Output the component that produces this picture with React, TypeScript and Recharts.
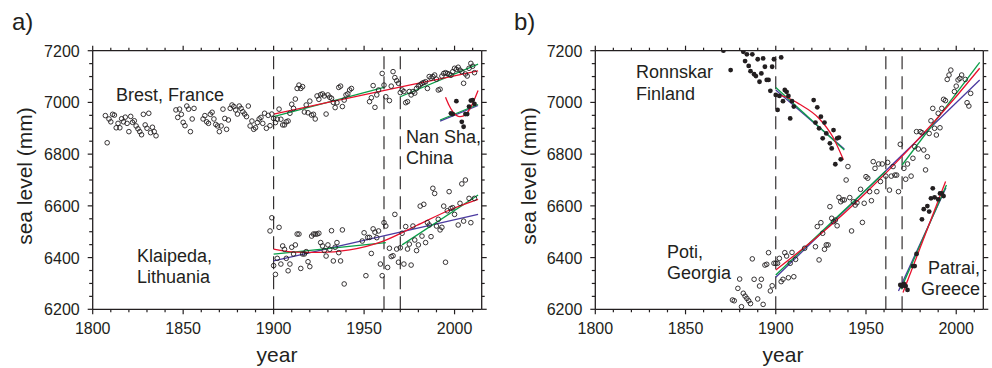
import { ComposedChart, XAxis, YAxis, Scatter, Line, ReferenceLine } from 'recharts'

type Pt = [number, number]

// ---- panel a: tide gauge annual means (year, mm) ----
const brest: Pt[] = [
  [1807, 6949], [1808, 6844], [1809, 6936], [1810, 6925], [1811, 6954], [1812, 6951], [1813, 6902],
  [1814, 6919], [1815, 6902], [1816, 6937], [1817, 6925], [1818, 6943], [1819, 6919], [1820, 6887],
  [1821, 6946], [1822, 6923], [1823, 6929], [1824, 6909], [1825, 6898], [1826, 6887], [1827, 6875],
  [1828, 6954], [1829, 6913], [1830, 6900], [1831, 6958], [1832, 6883], [1833, 6904], [1834, 6887],
  [1835, 6871],
  [1846, 6971], [1847, 6942], [1848, 6974], [1849, 6954], [1850, 6923], [1851, 6910], [1852, 6986],
  [1853, 6974], [1854, 6887], [1855, 6936], [1856, 6977],
  [1861, 6936], [1862, 6949], [1863, 6925], [1864, 6919], [1865, 6954], [1866, 6962], [1867, 6936],
  [1868, 6915], [1869, 6909], [1870, 6887], [1871, 6909], [1872, 6974], [1873, 6938], [1874, 6896],
  [1875, 6932], [1876, 6977], [1877, 6990], [1878, 6984], [1879, 6971], [1880, 6955], [1881, 6986],
  [1882, 6977], [1883, 6964], [1884, 6955], [1885, 6945], [1886, 6986], [1887, 6909], [1888, 6928],
  [1889, 6896], [1890, 6902], [1891, 6922], [1892, 6936], [1893, 6942], [1894, 6919], [1895, 6958],
  [1896, 6900], [1897, 6950], [1898, 6910], [1899, 6955], [1900, 6938], [1901, 6922], [1902, 6935],
  [1903, 6974], [1904, 6935], [1905, 6913], [1906, 6913], [1907, 6925], [1908, 6928], [1909, 6958],
  [1910, 6993], [1911, 6977], [1912, 7013], [1913, 7054], [1914, 7067], [1915, 7054], [1916, 7061],
  [1917, 6963], [1918, 6990], [1919, 6960], [1920, 7005], [1921, 6951], [1922, 6954], [1923, 6936],
  [1924, 7025], [1925, 7012], [1926, 7030], [1927, 7033], [1928, 7025], [1929, 6955], [1930, 7029],
  [1931, 7020], [1932, 7016], [1933, 7000], [1934, 6980], [1935, 6999], [1936, 7058], [1937, 7063],
  [1938, 6984], [1939, 7009], [1940, 7029], [1941, 7033], [1942, 7048], [1943, 7054],
  [1953, 7003], [1954, 7018], [1955, 7065], [1956, 6981], [1957, 7029], [1958, 7048], [1960, 7112],
  [1961, 7067], [1962, 7022], [1964, 7007], [1965, 7063], [1966, 7119], [1967, 7096], [1968, 7084],
  [1969, 7074], [1970, 7038], [1971, 7048], [1972, 7042], [1973, 6999], [1974, 7003], [1975, 7042],
  [1976, 7029], [1977, 7042], [1978, 7036], [1979, 7054], [1980, 7063], [1981, 7068], [1982, 7074],
  [1983, 7077], [1984, 7080], [1985, 7054], [1986, 7100], [1987, 7094], [1988, 7100], [1989, 7106],
  [1990, 7090], [1991, 7048], [1992, 7051], [1993, 7102], [1994, 7112], [1995, 7115], [1996, 7112],
  [1997, 7109], [1998, 7105], [1999, 7119], [2000, 7132], [2001, 7128], [2002, 7136], [2003, 7125],
  [2004, 7119], [2005, 7074], [2006, 7110], [2007, 7102], [2008, 7132], [2009, 7151], [2010, 7140],
  [2011, 7115],
]

const nanSha: Pt[] = [
  [1998, 6958], [1999, 6955], [2001, 7005], [2004, 6925], [2005, 6906], [2006, 6955], [2007, 6955],
  [2008, 6984], [2009, 7007], [2010, 7009], [2011, 6994],
]

const klaipeda: Pt[] = [
  [1898, 6503], [1899, 6554], [1900, 6369], [1901, 6335], [1902, 6397], [1903, 6517], [1904, 6375],
  [1905, 6445], [1906, 6432], [1907, 6397], [1908, 6349], [1909, 6375], [1910, 6440], [1911, 6414],
  [1912, 6449], [1913, 6491], [1914, 6491], [1915, 6358], [1916, 6414], [1917, 6414], [1918, 6423],
  [1919, 6384], [1920, 6365], [1921, 6483], [1922, 6491], [1923, 6491], [1924, 6491], [1925, 6494],
  [1926, 6458], [1927, 6445], [1928, 6427], [1929, 6406], [1930, 6449], [1931, 6432], [1932, 6504],
  [1933, 6387], [1934, 6440], [1935, 6458], [1936, 6419], [1937, 6387], [1938, 6507], [1939, 6298],
  [1949, 6464], [1950, 6496], [1951, 6330], [1952, 6478], [1953, 6478], [1954, 6416], [1955, 6511],
  [1956, 6498], [1957, 6477], [1958, 6503], [1959, 6375], [1960, 6330], [1961, 6535], [1962, 6522],
  [1963, 6362], [1964, 6436], [1965, 6404], [1966, 6407], [1967, 6567], [1968, 6433], [1969, 6382],
  [1970, 6438], [1971, 6494], [1972, 6375], [1973, 6520], [1974, 6433], [1975, 6452], [1976, 6371],
  [1977, 6522], [1978, 6468], [1979, 6427], [1980, 6449], [1981, 6599], [1982, 6483], [1983, 6606],
  [1984, 6458], [1985, 6535], [1986, 6526], [1987, 6481], [1988, 6668], [1989, 6648], [1990, 6522],
  [1991, 6548], [1992, 6507], [1993, 6517], [1994, 6599], [1995, 6382], [1996, 6581], [1997, 6655],
  [1998, 6590], [1999, 6593], [2000, 6567], [2002, 6526], [2003, 6610], [2004, 6685], [2005, 6541],
  [2006, 6700], [2008, 6629], [2009, 6535], [2011, 6629],
]

// ---- panel b ----
const ronnskar: Pt[] = [
  [1871, 7200], [1875, 7125], [1882, 7196], [1883, 7160], [1884, 7186], [1885, 7141], [1886, 7121],
  [1887, 7186], [1888, 7109], [1889, 7102], [1890, 7167], [1891, 7080], [1892, 7112], [1893, 7170],
  [1894, 7138], [1895, 7087], [1896, 7087], [1897, 7045], [1898, 7138], [1899, 7167], [1900, 7029],
  [1901, 6971], [1902, 7025], [1903, 7174], [1904, 7005], [1905, 7048], [1906, 7041], [1907, 7025],
  [1908, 6938], [1909, 7005], [1910, 6984],
  [1921, 7009], [1922, 6922], [1923, 6981], [1924, 6900], [1925, 6945], [1926, 6861], [1927, 6922],
  [1928, 6880], [1930, 6842], [1931, 6822], [1932, 6893], [1933, 6761], [1934, 6861], [1935, 6864],
  [1936, 6780],
]

const poti: Pt[] = [
  [1876, 6236], [1877, 6233], [1879, 6281], [1880, 6317], [1881, 6210], [1882, 6262], [1883, 6251],
  [1884, 6242], [1885, 6233], [1886, 6222], [1887, 6395], [1888, 6316], [1890, 6240], [1891, 6290],
  [1892, 6316], [1893, 6219], [1894, 6371], [1895, 6374], [1896, 6419], [1897, 6271], [1898, 6291],
  [1899, 6378], [1900, 6378], [1901, 6378], [1902, 6397], [1903, 6307], [1904, 6316], [1905, 6419],
  [1906, 6406], [1907, 6322], [1908, 6378], [1909, 6420], [1910, 6326], [1911, 6393],
  [1916, 6436], [1922, 6442], [1923, 6520], [1924, 6391], [1925, 6535], [1926, 6494], [1927, 6432],
  [1928, 6449], [1929, 6449], [1930, 6597], [1931, 6552], [1932, 6539], [1933, 6545], [1934, 6523],
  [1935, 6633], [1936, 6616], [1937, 6623], [1938, 6623], [1939, 6700], [1940, 6752], [1941, 6632],
  [1942, 6503], [1943, 6616], [1944, 6603], [1945, 6612], [1947, 6664], [1948, 6536], [1949, 6610],
  [1950, 6713], [1951, 6707], [1952, 6655], [1953, 6620], [1954, 6771], [1955, 6745], [1956, 6655],
  [1957, 6762], [1958, 6694], [1959, 6762], [1961, 6715], [1962, 6768], [1963, 6661], [1964, 6715],
  [1965, 6752], [1966, 6719], [1967, 6719], [1968, 6655], [1969, 6838], [1971, 6745], [1972, 6703],
  [1973, 6762], [1975, 6715], [1976, 6784], [1977, 6829], [1978, 6887], [1979, 6820], [1980, 6887],
  [1981, 6883], [1982, 6816], [1983, 6739], [1984, 6790], [1985, 6880], [1986, 6929], [1987, 6977],
  [1988, 6900], [1989, 6874], [1990, 6958], [1991, 6902], [1992, 6977], [1993, 7012], [1994, 7007],
  [1995, 7089], [1996, 7106], [1997, 7125], [1999, 7042], [2000, 7063], [2001, 7087], [2002, 7093],
  [2003, 7106], [2005, 7089], [2006, 6999], [2007, 6986], [2008, 7035],
]

const patrai: Pt[] = [
  [1969, 6294], [1970, 6290], [1971, 6298], [1972, 6290], [1973, 6275], [1976, 6367], [1977, 6367],
  [1978, 6414], [1981, 6548], [1982, 6587], [1984, 6599], [1985, 6578], [1986, 6629], [1987, 6668],
  [1988, 6633], [1990, 6625], [1991, 6648], [1992, 6648], [1993, 6638],
]

// ---- fitted curves ----
const brestGreenA: Pt[] = [[1900, 6945], [1961, 7058]]
const brestGreenB: Pt[] = [[1970, 7022], [2013, 7148]]
const brestRed: Pt[] = [[1900, 6955], [1930, 7000], [1960, 7045], [1990, 7088], [2013, 7122]]
const nanShaPurple: Pt[] = [[1992, 6928], [2013, 6988]]
const nanShaGreen: Pt[] = [[1992, 6932], [2013, 6992]]
const nanShaRed: Pt[] = [
  [1995, 7020], [1997, 6988], [1999, 6964], [2001, 6950], [2003, 6945], [2005, 6948],
  [2007, 6960], [2009, 6982], [2011, 7012], [2013, 7046],
]
const klaipedaPurple: Pt[] = [[1900, 6387], [2013, 6567]]
const klaipedaGreenA: Pt[] = [[1900, 6413], [1962, 6458]]
const klaipedaGreenB: Pt[] = [[1971, 6449], [2013, 6642]]
const klaipedaRed: Pt[] = [[1900, 6433], [1912, 6421], [1925, 6420], [1942, 6430], [1961, 6465], [1979, 6524], [1998, 6586], [2013, 6625]]

const ronnskarPurple: Pt[] = [[1900, 7048], [1938, 6820]]
const ronnskarGreen: Pt[] = [[1900, 7058], [1938, 6816]]
const ronnskarRed: Pt[] = [[1900, 7030], [1906, 7020], [1913, 6994], [1924, 6938], [1931.5, 6868], [1937.5, 6778]]
const potiPurple: Pt[] = [[1900, 6324], [2013, 7087]]
const potiGreenA: Pt[] = [[1900, 6333], [1961, 6735]]
const potiGreenB: Pt[] = [[1970, 6758], [2013, 7155]]
const potiRed: Pt[] = [[1900, 6352], [1925, 6492], [1950, 6651], [1975, 6828], [2000, 7023], [2013, 7132]]
const patraiPurple: Pt[] = [[1968, 6271], [1994.3, 6670]]
const patraiGreen: Pt[] = [[1969.3, 6278], [1994.6, 6681]]
const patraiRed: Pt[] = [[1970.5, 6265], [1994.1, 6694]]

const BREAK_YEARS = [1900, 1961, 1970]
const X_TICKS = Array.from({ length: 22 }, (_, i) => 1800 + i * 10)
const Y_TICKS = Array.from({ length: 21 }, (_, i) => 6200 + i * 50)

const INK = '#231f20'
const RED = '#e8112d'
const GREEN = '#0a9e48'
const PURPLE = '#4b3aa0'
const FONT = '"Liberation Sans", Arial, Helvetica, sans-serif'

const rows = (pts: Pt[]) => pts.map(([year, v]) => ({ year, v }))

interface Fit {
  pts: Pt[]
  color: string
  curved?: boolean
}

// ticks are drawn by hand so minor ones can be shorter than major ones
const BottomTick = (p: any) => {
  const v = p.payload.value
  const major = v % 50 === 0
  return (
    <g>
      <path d={`M${p.x},${p.y}v${major ? 5 : 3}`} stroke={INK} strokeWidth={1.2} />
      {major && (
        <text x={p.x} y={p.y + 25} textAnchor="middle" fontSize={16} fill={INK} fontFamily={FONT}>
          {v}
        </text>
      )}
    </g>
  )
}

const TopTick = (p: any) => {
  const major = p.payload.value % 50 === 0
  return <path d={`M${p.x},${p.y}v${major ? -5 : -3}`} stroke={INK} strokeWidth={1.2} />
}

const LeftTick = (p: any) => {
  const v = p.payload.value
  const major = v % 200 === 0
  return (
    <g>
      <path d={`M${p.x},${p.y}h${major ? -5 : -3.5}`} stroke={INK} strokeWidth={1.2} />
      {major && (
        <text x={p.x - 13} y={p.y + 6} textAnchor="end" fontSize={16} fill={INK} fontFamily={FONT}>
          {v}
        </text>
      )}
    </g>
  )
}

const RightTick = (p: any) => {
  const major = p.payload.value % 200 === 0
  return <path d={`M${p.x},${p.y}h${major ? 5 : 3}`} stroke={INK} strokeWidth={1.2} />
}

const OpenDot = (p: any) => <circle cx={p.cx} cy={p.cy} r={2.3} fill="none" stroke={INK} strokeWidth={0.9} />
const FilledDot = (p: any) => <circle cx={p.cx} cy={p.cy} r={2.4} fill={INK} />

const AXIS = { stroke: INK, strokeWidth: 1.3 }

interface PanelProps {
  open: Pt[][]
  filled: Pt[][]
  fits: Fit[]
  left: number
  right: number
}

function Panel({ open, filled, fits, left, right }: PanelProps) {
  return (
    <ComposedChart width={496} height={368} margin={{ top: 49.7, right, bottom: 28.7, left }}>
      <XAxis
        dataKey="year"
        type="number"
        domain={[1800, 2015]}
        allowDataOverflow
        ticks={X_TICKS}
        interval={0}
        tickSize={0}
        tickMargin={0}
        tickLine={false}
        axisLine={AXIS}
        tick={(p: any) => <BottomTick {...p} />}
        height={30}
      />
      <XAxis
        xAxisId="top"
        orientation="top"
        dataKey="year"
        type="number"
        domain={[1800, 2015]}
        allowDataOverflow
        ticks={X_TICKS}
        interval={0}
        tickSize={0}
        tickMargin={0}
        tickLine={false}
        axisLine={AXIS}
        tick={(p: any) => <TopTick {...p} />}
        height={1}
      />
      <YAxis
        type="number"
        domain={[6200, 7200]}
        allowDataOverflow
        ticks={Y_TICKS}
        interval={0}
        tickSize={0}
        tickMargin={0}
        tickLine={false}
        axisLine={AXIS}
        tick={(p: any) => <LeftTick {...p} />}
        width={60}
      />
      <YAxis
        yAxisId="right"
        orientation="right"
        type="number"
        domain={[6200, 7200]}
        allowDataOverflow
        ticks={Y_TICKS}
        interval={0}
        tickSize={0}
        tickMargin={0}
        tickLine={false}
        axisLine={AXIS}
        tick={(p: any) => <RightTick {...p} />}
        width={1}
      />
      {BREAK_YEARS.map((yr) => (
        <ReferenceLine key={yr} x={yr} stroke={INK} strokeWidth={1.1} strokeDasharray="13 7" />
      ))}
      {open.map((pts, i) => (
        <Scatter key={`o${i}`} data={rows(pts)} dataKey="v" shape={OpenDot} isAnimationActive={false} />
      ))}
      {filled.map((pts, i) => (
        <Scatter key={`f${i}`} data={rows(pts)} dataKey="v" shape={FilledDot} isAnimationActive={false} />
      ))}
      {fits.map((f, i) => (
        <Line
          key={`l${i}`}
          data={rows(f.pts)}
          dataKey="v"
          type={f.curved ? 'monotone' : 'linear'}
          stroke={f.color}
          strokeWidth={1.3}
          dot={false}
          activeDot={false}
          isAnimationActive={false}
        />
      ))}
    </ComposedChart>
  )
}

// purple first, then green, red on top
const fitsA: Fit[] = [
  { pts: nanShaPurple, color: PURPLE },
  { pts: klaipedaPurple, color: PURPLE },
  { pts: brestGreenA, color: GREEN },
  { pts: brestGreenB, color: GREEN },
  { pts: nanShaGreen, color: GREEN },
  { pts: klaipedaGreenA, color: GREEN },
  { pts: klaipedaGreenB, color: GREEN },
  { pts: brestRed, color: RED, curved: true },
  { pts: nanShaRed, color: RED, curved: true },
  { pts: klaipedaRed, color: RED, curved: true },
]

const fitsB: Fit[] = [
  { pts: ronnskarPurple, color: PURPLE },
  { pts: potiPurple, color: PURPLE },
  { pts: patraiPurple, color: PURPLE },
  { pts: ronnskarGreen, color: GREEN },
  { pts: potiGreenA, color: GREEN },
  { pts: potiGreenB, color: GREEN },
  { pts: patraiGreen, color: GREEN },
  { pts: ronnskarRed, color: RED, curved: true },
  { pts: potiRed, color: RED, curved: true },
  { pts: patraiRed, color: RED },
]

export default function App() {
  const label = { fontFamily: FONT, fill: INK }
  return (
    <div style={{ position: 'absolute', left: 0, top: 0, width: 992, height: 368, background: '#fff' }}>
      <div style={{ position: 'absolute', left: 0, top: 0 }}>
        <Panel open={[brest, klaipeda]} filled={[nanSha]} fits={fitsA} left={32.7} right={13.3} />
      </div>
      <div style={{ position: 'absolute', left: 496, top: 0 }}>
        <Panel open={[poti]} filled={[ronnskar, patrai]} fits={fitsB} left={39.3} right={7.7} />
      </div>
      <svg width={992} height={368} style={{ position: 'absolute', left: 0, top: 0, pointerEvents: 'none' }}>
        <g {...label}>
          <text x={12} y={30} fontSize={24}>a)</text>
          <text x={514} y={30} fontSize={24}>b)</text>
          <text x={32} y={176} fontSize={21} textAnchor="middle" transform="rotate(-90 32 176)">sea level (mm)</text>
          <text x={536} y={176} fontSize={21} textAnchor="middle" transform="rotate(-90 536 176)">sea level (mm)</text>
          <text x={277} y={362} fontSize={21} textAnchor="middle">year</text>
          <text x={783} y={362} fontSize={21} textAnchor="middle">year</text>
          <text x={116} y={101} fontSize={18}>Brest, France</text>
          <text x={406} y={143} fontSize={18}>Nan Sha,</text>
          <text x={406} y={164} fontSize={18}>China</text>
          <text x={137} y={262} fontSize={18}>Klaipeda,</text>
          <text x={137} y={283} fontSize={18}>Lithuania</text>
          <text x={636} y={78} fontSize={18}>Ronnskar</text>
          <text x={636} y={100} fontSize={18}>Finland</text>
          <text x={667} y={258} fontSize={18}>Poti,</text>
          <text x={667} y={279} fontSize={18}>Georgia</text>
          <text x={980} y={274} fontSize={18} textAnchor="end">Patrai,</text>
          <text x={980} y={295} fontSize={18} textAnchor="end">Greece</text>
        </g>
      </svg>
    </div>
  )
}
